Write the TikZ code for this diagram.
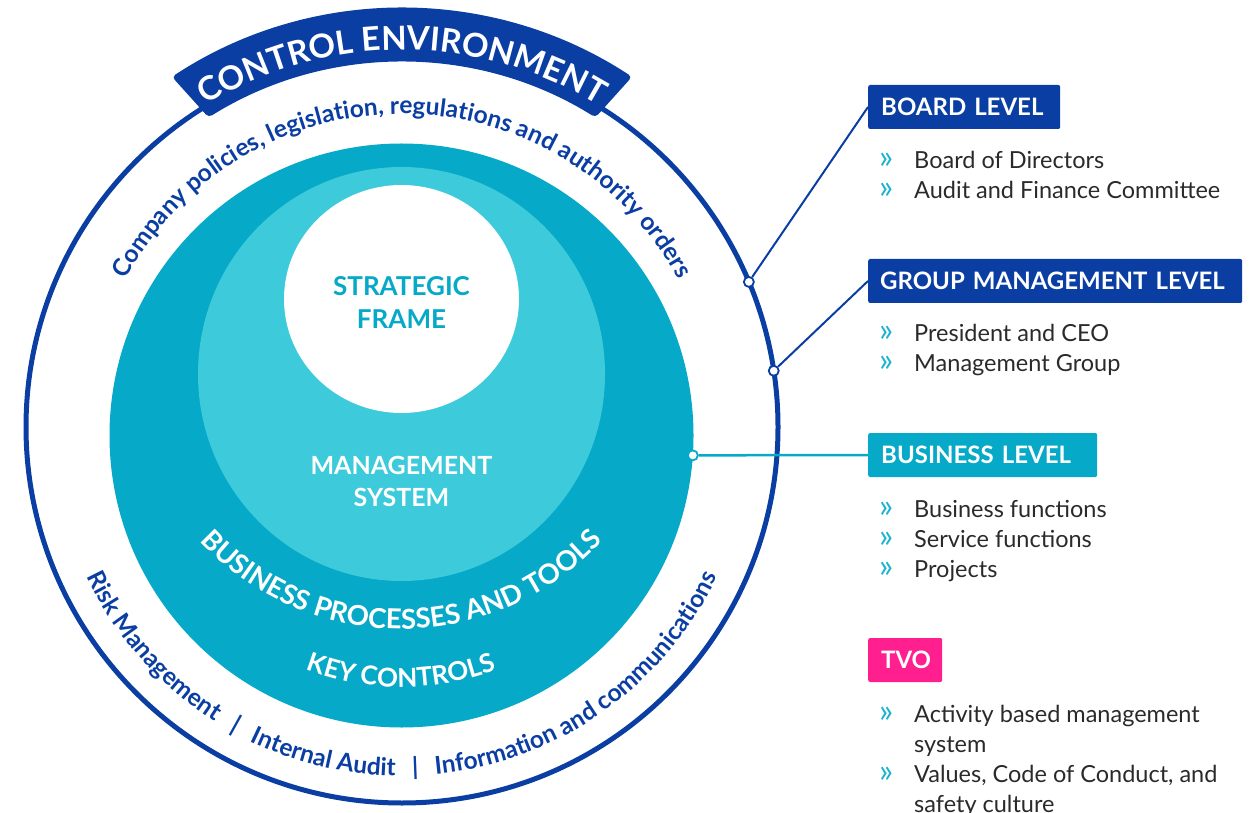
\documentclass[tikz,border=0pt]{standalone}
\usepackage{fontspec}
\setmainfont{Lato}
\usetikzlibrary{decorations.text}
\definecolor{cblue}{HTML}{0A3EA3}
\definecolor{cteal}{HTML}{06A9C7}
\definecolor{clight}{HTML}{3DCADB}
\definecolor{cpink}{HTML}{FF1F8F}
\definecolor{cchev}{HTML}{1BB3D0}
\definecolor{cgray}{HTML}{2A2A2A}
\newcommand\mychev{\makebox[35pt][l]{\textcolor{cchev}{\fontsize{33}{33}\selectfont »}}}
\begin{document}
\begin{tikzpicture}[x=1pt,y=1pt,
  hdr/.style={anchor=west, text=white, font=\fontsize{24}{24}\selectfont\bfseries, inner xsep=13pt, minimum height=44pt, align=left, rounded corners=2pt},
  item/.style={anchor=base west, inner sep=0pt, text=cgray, font=\fontsize{23.5}{23.5}\selectfont},
  dot/.style={circle, fill=white, minimum size=10pt, inner sep=0pt, line width=1.8pt},
  conn/.style={line width=2pt},
  curvetext/.style={decorate, decoration={text along path, text align=center}},
  midtext/.style={font=\fontsize{26}{26}\selectfont\bfseries, inner sep=0pt}
]
\useasboundingbox (0,0) rectangle (1257,812);
\coordinate (O) at (402,385);
\coordinate (T) at (401.5,376.5);
\coordinate (L) at (401.5,438);
\coordinate (W) at (401.5,513);
% rings
\fill[cteal] (T) circle[radius=292];
\fill[clight] (L) ellipse[x radius=203.5, y radius=207];
\fill[white] (W) ellipse[x radius=117.5, y radius=114];
\draw[cblue, line width=5pt] (O) circle[radius=376];
% banner
\fill[cblue, rounded corners=4pt] ([shift={(123.3:419)}]O) arc[start angle=123.3, end angle=56.7, radius=419]
  -- ([shift={(58:365)}]O) arc[start angle=58, end angle=122, radius=365] -- cycle;
\path[curvetext, decoration={text={|\fontsize{33}{33}\selectfont\bfseries\color{white}|CONTROL ENVIRONMENT}}]
  ([shift={(140:377)}]O) arc[start angle=140, end angle=40, radius=377];
% outer ring texts
\path[curvetext, decoration={text={|\fontsize{24.5}{24.5}\selectfont\bfseries\color{cblue}|Company policies, legislation, regulations and authority orders}}]
  ([shift={(178:313)}]O) arc[start angle=178, end angle=2, radius=313];
\path[curvetext, decoration={text={|\fontsize{24.5}{24.5}\selectfont\bfseries\color{cblue}|Risk Management {\hspace{11pt}\textbar\hspace{11pt}} Internal Audit {\hspace{11pt}\textbar\hspace{11pt}} Information and communications}}]
  ([shift={(182:349)}]O) arc[start angle=182, end angle=358, radius=349];
% inner texts
\node[midtext, text=cteal] (sf1) at (401.5,526) {STRATEGIC};
\node[midtext, text=cteal] (sf2) at (401.5,493) {FRAME};
\node[midtext, text=white, font=\fontsize{25}{25}\selectfont\bfseries] (ms1) at (401.5,347) {MANAGEMENT};
\node[midtext, text=white, font=\fontsize{25}{25}\selectfont\bfseries] (ms2) at (401.5,315) {SYSTEM};
\path[curvetext, decoration={text={|\fontsize{27.5}{27.5}\selectfont\bfseries\color{white}|BUSINESS PROCESSES AND TOOLS}}]
  (401,458) ++(185:275) arc[start angle=185, end angle=355, radius=275];
\path[curvetext, decoration={text={|\fontsize{26}{26}\selectfont\bfseries\color{white}|KEY CONTROLS}}]
  (401,393) ++(215:268) arc[start angle=215, end angle=325, radius=268];
% headers
\node[hdr, fill=cblue, text width=166pt] (board) at (868,705) {BOARD LEVEL};
\node[hdr, fill=cblue, text width=350pt, inner xsep=12pt] (group) at (868,531) {GROUP MANAGEMENT LEVEL};
\node[hdr, fill=cteal, text width=203pt] (business) at (868,357) {BUSINESS LEVEL};
\node[hdr, fill=cpink, text width=48pt] (tvo) at (868,152) {TVO};
% items
\node[item] (b1) at (879,643) {\mychev Board of Directors};
\node[item] (b2) at (879,613) {\mychev Audit and Finance Committee};
\node[item] (g1) at (879,470) {\mychev President and CEO};
\node[item] (g2) at (879,440) {\mychev Management Group};
\node[item] (s1) at (879,295) {\mychev Business functions};
\node[item] (s2) at (879,265) {\mychev Service functions};
\node[item] (s3) at (879,235) {\mychev Projects};
\node[item] (t1) at (879,90) {\mychev Activity based management};
\node[item] (t2) at (914,60) {system};
\node[item] (t3) at (879,30) {\mychev Values, Code of Conduct, and};
\node[item] (t4) at (914,0) {safety culture};
% connectors
\node[dot, draw=cblue] (d1) at ([shift={(22.7:376)}]O) {};
\node[dot, draw=cblue] (d2) at ([shift={(8.6:376)}]O) {};
\node[dot, draw=cteal] (d3) at ([shift={(-3.9:292)}]T) {};
\draw[conn, cblue] (d1) -- (board.west);
\draw[conn, cblue] (d2) -- (group.west);
\draw[conn, cteal, line width=2.5pt] (d3) -- (business.west);
\end{tikzpicture}
\end{document}
